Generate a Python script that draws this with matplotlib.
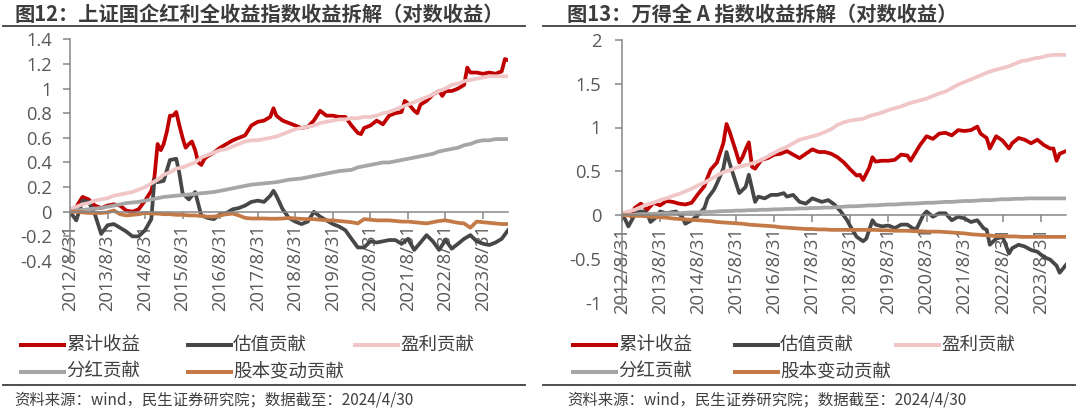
import matplotlib
matplotlib.use("Agg")
import matplotlib.pyplot as plt
from matplotlib.lines import Line2D
from matplotlib.ticker import FuncFormatter, MultipleLocator
import pandas as pd

plt.rcParams['font.family'] = ['Noto Sans CJK SC', 'DejaVu Sans']
plt.rcParams['axes.unicode_minus'] = False

# 月份偏移（以 2012/8/31 为 0）
grid = list(range(0, 141, 2))

# 图12：上证国企红利全收益指数
sz_red_m = [0, 2, 4, 6, 8, 10, 12, 14, 16, 18, 20, 22, 24, 26, 27, 28, 29, 30, 31, 32,
            33, 34, 35, 36, 37, 38, 39, 40, 41, 42, 43, 44, 46, 48, 50, 52, 54, 56, 58, 60,
            62, 64, 65, 66, 68, 70, 72, 74, 76, 78, 80, 82, 84, 86, 88, 90, 92, 93, 94, 96,
            98, 100, 102, 104, 106, 107, 108, 110, 111, 112, 114, 116, 118, 119, 120, 122, 124, 126, 127, 128,
            130, 132, 134, 136, 138, 139, 140]
sz_red = [0, 0.04, 0.12, 0.10, 0.05, 0.03, 0.05, 0.06, 0.05, 0.01,
          0.0, 0.02, 0.09, 0.17, 0.28, 0.55, 0.50, 0.55, 0.65, 0.78,
          0.78, 0.81, 0.70, 0.60, 0.52, 0.55, 0.57, 0.50, 0.40, 0.38,
          0.43, 0.45, 0.48, 0.52, 0.55, 0.58, 0.60, 0.62, 0.70, 0.73,
          0.74, 0.77, 0.84, 0.78, 0.74, 0.72, 0.70, 0.68, 0.69, 0.74,
          0.82, 0.78, 0.78, 0.77, 0.77, 0.70, 0.64, 0.63, 0.68, 0.70,
          0.74, 0.71, 0.78, 0.80, 0.81, 0.90, 0.88, 0.82, 0.80, 0.87,
          0.90, 0.95, 0.98, 0.94, 0.98, 0.98, 1.00, 1.03, 1.17, 1.13,
          1.13, 1.12, 1.13, 1.12, 1.14, 1.24, 1.23]
sz_val_m = [0, 2, 4, 6, 8, 10, 12, 14, 16, 18, 20, 22, 24, 26, 27, 28, 30, 32, 34, 35,
            36, 38, 40, 42, 44, 46, 48, 50, 52, 54, 56, 58, 60, 62, 64, 65, 66, 68, 70, 72,
            74, 76, 78, 80, 82, 84, 86, 88, 90, 92, 94, 96, 98, 100, 102, 104, 106, 108, 110, 112,
            114, 116, 118, 120, 122, 124, 126, 128, 130, 132, 134, 136, 138, 140]
sz_val = [0, -0.07, 0.09, 0.08, -0.02, -0.18, -0.11, -0.10, -0.13, -0.16,
          -0.20, -0.20, -0.15, -0.06, 0.26, 0.24, 0.25, 0.42, 0.43, 0.31,
          0.15, 0.10, 0.16, -0.03, -0.05, -0.06, -0.02, -0.01, 0.02, 0.03,
          0.05, 0.08, 0.09, 0.08, 0.13, 0.17, 0.13, 0.02, -0.05, -0.08,
          -0.10, -0.08, 0.0, -0.04, -0.07, -0.10, -0.12, -0.15, -0.22, -0.29,
          -0.29, -0.24, -0.25, -0.24, -0.23, -0.23, -0.26, -0.22, -0.31, -0.25,
          -0.19, -0.24, -0.31, -0.23, -0.30, -0.26, -0.22, -0.19, -0.24, -0.26,
          -0.27, -0.25, -0.22, -0.15]
sz_earn = [0.02, 0.04, 0.06, 0.07, 0.09, 0.10, 0.11, 0.13, 0.14, 0.15,
           0.16, 0.18, 0.20, 0.23, 0.26, 0.30, 0.32, 0.35, 0.36, 0.38,
           0.40, 0.44, 0.46, 0.48, 0.50, 0.51, 0.53, 0.55, 0.57, 0.58,
           0.58, 0.59, 0.60, 0.61, 0.63, 0.65, 0.67, 0.68, 0.69, 0.70,
           0.72, 0.73, 0.74, 0.75, 0.75, 0.76, 0.76, 0.77, 0.77, 0.78,
           0.80, 0.81, 0.83, 0.85, 0.87, 0.89, 0.91, 0.93, 0.95, 0.98,
           1.00, 1.03, 1.04, 1.06, 1.07, 1.08, 1.09, 1.10, 1.10, 1.10,
           1.10]
sz_div = [0.00, 0.01, 0.015, 0.02, 0.025, 0.03, 0.04, 0.05, 0.06, 0.07,
          0.075, 0.08, 0.09, 0.10, 0.11, 0.12, 0.125, 0.13, 0.135, 0.14,
          0.145, 0.15, 0.155, 0.16, 0.17, 0.18, 0.19, 0.20, 0.21, 0.22,
          0.225, 0.23, 0.235, 0.24, 0.25, 0.26, 0.265, 0.27, 0.28, 0.29,
          0.30, 0.31, 0.32, 0.33, 0.335, 0.34, 0.36, 0.37, 0.38, 0.39,
          0.40, 0.40, 0.41, 0.42, 0.43, 0.44, 0.45, 0.46, 0.47, 0.49,
          0.50, 0.51, 0.52, 0.54, 0.55, 0.57, 0.58, 0.58, 0.59, 0.59,
          0.59]
sz_share = [0.0, 0.0, -0.005, -0.01, -0.01, -0.01, -0.005, 0.01, -0.02, -0.03,
            -0.025, -0.02, -0.01, -0.015, -0.015, -0.02, -0.02, -0.025, -0.025, -0.03,
            -0.03, -0.035, -0.04, -0.04, -0.03, -0.02, -0.015, -0.03, -0.05, -0.055,
            -0.055, -0.055, -0.057, -0.057, -0.055, -0.05, -0.055, -0.058, -0.06, -0.06,
            -0.065, -0.07, -0.07, -0.075, -0.08, -0.085, -0.095, -0.06, -0.065, -0.07,
            -0.07, -0.07, -0.075, -0.08, -0.08, -0.085, -0.09, -0.095, -0.085, -0.075,
            -0.07, -0.08, -0.09, -0.095, -0.13, -0.08, -0.085, -0.09, -0.095, -0.10,
            -0.10]

# 图13：万得全A
qa_red_m = [0, 2, 3, 4, 6, 8, 10, 12, 14, 16, 18, 20, 22, 24, 26, 27, 28, 30, 32, 33,
            34, 36, 37, 38, 39, 40, 41, 42, 44, 46, 48, 50, 52, 54, 56, 58, 60, 62, 64, 66,
            68, 70, 72, 74, 75, 76, 78, 79, 80, 82, 84, 86, 88, 90, 91, 92, 94, 96, 98, 100,
            102, 104, 106, 108, 110, 112, 113, 115, 116, 118, 120, 122, 123, 125, 127, 129, 131, 133, 135, 136,
            137, 138, 140]
qa_red = [0.0, 0.03, -0.02, 0.08, 0.13, 0.06, 0.14, 0.11, 0.16, 0.15,
          0.13, 0.12, 0.14, 0.24, 0.33, 0.43, 0.52, 0.60, 0.82, 1.04,
          0.95, 0.72, 0.60, 0.66, 0.75, 0.83, 0.55, 0.53, 0.63, 0.65,
          0.69, 0.70, 0.73, 0.69, 0.65, 0.70, 0.75, 0.72, 0.72, 0.70,
          0.66, 0.60, 0.52, 0.45, 0.46, 0.40, 0.54, 0.66, 0.61, 0.62,
          0.62, 0.63, 0.69, 0.68, 0.62, 0.68, 0.80, 0.90, 0.87, 0.93,
          0.94, 0.91, 0.97, 0.96, 0.97, 1.01, 0.93, 0.88, 0.76, 0.90,
          0.85, 0.76, 0.82, 0.88, 0.86, 0.82, 0.86, 0.80, 0.76, 0.76,
          0.62, 0.70, 0.73]
qa_val_m = [0, 1, 2, 4, 5, 7, 8, 9, 11, 12, 14, 17, 19, 20, 22, 24, 26, 27, 29, 30,
            32, 33, 34, 36, 37, 39, 40, 42, 43, 45, 47, 49, 51, 52, 54, 56, 58, 60, 63, 65,
            67, 69, 71, 72, 74, 76, 77, 79, 80, 82, 84, 86, 88, 90, 92, 93, 95, 96, 98, 100,
            102, 104, 106, 108, 110, 112, 114, 115, 116, 118, 120, 122, 123, 125, 127, 129, 131, 133, 135, 137,
            138, 140]
qa_val = [0, -0.05, -0.13, 0.0, 0.04, 0.04, 0.02, -0.08, -0.02, 0.04,
          0.02, 0.04, -0.02, -0.10, -0.06, 0.0, 0.08, 0.19, 0.29, 0.36,
          0.53, 0.72, 0.59, 0.36, 0.25, 0.32, 0.46, 0.15, 0.21, 0.19,
          0.23, 0.23, 0.25, 0.21, 0.23, 0.15, 0.13, 0.19, 0.15, 0.17,
          0.12, 0.04, -0.06, -0.13, -0.25, -0.30, -0.27, -0.06, -0.11, -0.13,
          -0.12, -0.15, -0.11, -0.11, -0.16, -0.15, 0.0, 0.04, -0.02, 0.02,
          0.02, -0.06, -0.02, -0.04, -0.08, -0.06, -0.15, -0.17, -0.34, -0.27,
          -0.25, -0.44, -0.38, -0.34, -0.36, -0.40, -0.42, -0.48, -0.51, -0.58,
          -0.66, -0.57]
qa_earn = [0.02, 0.04, 0.06, 0.09, 0.12, 0.14, 0.17, 0.19, 0.22, 0.24,
           0.27, 0.30, 0.34, 0.37, 0.41, 0.45, 0.49, 0.51, 0.54, 0.56,
           0.58, 0.60, 0.63, 0.67, 0.71, 0.75, 0.78, 0.82, 0.86, 0.88,
           0.90, 0.92, 0.95, 0.98, 1.03, 1.06, 1.08, 1.09, 1.10, 1.13,
           1.15, 1.17, 1.20, 1.22, 1.24, 1.27, 1.29, 1.31, 1.33, 1.36,
           1.39, 1.41, 1.45, 1.49, 1.52, 1.55, 1.58, 1.61, 1.64, 1.66,
           1.68, 1.70, 1.73, 1.76, 1.77, 1.79, 1.80, 1.82, 1.83, 1.83,
           1.83]
qa_div = [0.0, 0.0, 0.005, 0.01, 0.01, 0.015, 0.015, 0.02, 0.02, 0.02,
          0.025, 0.03, 0.03, 0.035, 0.035, 0.04, 0.045, 0.045, 0.05, 0.05,
          0.055, 0.055, 0.06, 0.06, 0.065, 0.065, 0.07, 0.07, 0.075, 0.075,
          0.08, 0.08, 0.085, 0.085, 0.09, 0.095, 0.10, 0.10, 0.105, 0.11,
          0.11, 0.115, 0.12, 0.12, 0.125, 0.13, 0.13, 0.135, 0.14, 0.14,
          0.145, 0.15, 0.15, 0.155, 0.16, 0.16, 0.165, 0.17, 0.17, 0.175,
          0.18, 0.18, 0.185, 0.185, 0.19, 0.19, 0.19, 0.19, 0.19, 0.19,
          0.19]
qa_share = [0.0, -0.005, -0.01, -0.01, -0.015, -0.02, -0.025, -0.03, -0.04, -0.045,
            -0.05, -0.055, -0.06, -0.065, -0.07, -0.08, -0.085, -0.09, -0.095, -0.10,
            -0.11, -0.115, -0.12, -0.125, -0.13, -0.14, -0.145, -0.15, -0.155, -0.16,
            -0.16, -0.165, -0.165, -0.17, -0.17, -0.17, -0.17, -0.17, -0.17, -0.17,
            -0.17, -0.175, -0.175, -0.18, -0.18, -0.18, -0.185, -0.185, -0.19, -0.19,
            -0.19, -0.195, -0.20, -0.205, -0.21, -0.22, -0.225, -0.23, -0.235, -0.24,
            -0.24, -0.245, -0.245, -0.25, -0.25, -0.25, -0.25, -0.25, -0.25, -0.25,
            -0.25]

names = ['累计收益', '估值贡献', '盈利贡献', '分红贡献', '股本变动贡献']
colors = ['#C00000', '#474747', '#F0C6C6', '#A6A6A6', '#C47A46']
tick_years = list(range(2012, 2024))

start = pd.Timestamp('2012-08-31')


def to_dates(months):
    return [start + pd.offsets.MonthEnd(m) for m in months]


W, H = 1080, 409
fig = plt.figure(figsize=(W / 100, H / 100), dpi=100)


def px(x, y):
    return x / W, 1 - y / H


def panel(rect, series, ylim, ystep, ypad):
    ax = fig.add_axes(rect)
    for (m, v), c in zip(series, colors):
        ax.plot(to_dates(m), v, color=c, lw=2.7, solid_joinstyle='round', zorder=2)
    ax.set_xlim(start, start + pd.offsets.MonthEnd(140))
    ax.set_ylim(*ylim)
    ax.yaxis.set_major_locator(MultipleLocator(ystep))
    ax.yaxis.set_major_formatter(FuncFormatter(lambda v, p: f'{round(v, 2):g}'))
    ticks = [pd.Timestamp(f'{y}-08-31') for y in tick_years]
    ax.set_xticks(ticks)
    ax.set_xticklabels([f'{y}/8/31' for y in tick_years])
    for s in ['top', 'right']:
        ax.spines[s].set_visible(False)
    ax.spines['bottom'].set_position(('data', 0))
    for s in ['left', 'bottom']:
        ax.spines[s].set_color('#868686')
        ax.spines[s].set_linewidth(1.1)
    ax.tick_params(axis='both', colors='#868686', labelcolor='#595959', length=5, width=1.1,
                   labelsize=13.2, direction='out')
    ax.tick_params(axis='y', pad=ypad)
    ax.tick_params(axis='x', pad=4, labelrotation=90)
    for lab in ax.get_xticklabels() + ax.get_yticklabels():
        lab.set_fontfamily(['Open Sans', 'DejaVu Sans'])
    return ax


sz_series = [(sz_red_m, sz_red), (sz_val_m, sz_val), (grid, sz_earn), (grid, sz_div), (grid, sz_share)]
qa_series = [(qa_red_m, qa_red), (qa_val_m, qa_val), (grid, qa_earn), (grid, qa_div), (grid, qa_share)]

panel([70 / W, 1 - 261 / H, 438 / W, (261 - 39.3) / H], sz_series, (-0.4, 1.4), 0.2, 8)
panel([622 / W, 1 - 302.5 / H, 444 / W, 262.5 / H], qa_series, (-1, 2), 0.5, 10)


def frame(x0, x1, tx, title, lx):
    fig.text(*px(tx, 14), title, fontsize=14.6, fontweight='bold', color='#3c3c3c', va='center')
    fig.add_artist(Line2D([x0 / W, x1 / W], [1 - 26 / H] * 2, color='#404040', lw=1.3))
    fig.add_artist(Line2D([x0 / W, x1 / W], [1 - 385 / H] * 2, color='#404040', lw=1.3))
    fig.text(*px(tx, 400), '资料来源：wind，民生证券研究院；数据截至：2024/4/30',
             fontsize=11.1, color='#404040', va='center')
    for i, (n, c) in enumerate(zip(names, colors)):
        col, row = i % 3, i // 3
        x = lx[col]
        y = 345 + row * 27
        fig.add_artist(Line2D([x / W, (x + 43) / W], [1 - y / H] * 2, color=c, lw=2.9))
        fig.text(*px(x + 45, y), n, fontsize=13.3, color='#404040', va='center')


frame(3, 525, 14, '图12：上证国企红利全收益指数收益拆解（对数收益）', [21, 188, 355])
frame(543, 1075, 567, '图13：万得全 A 指数收益拆解（对数收益）', [573, 735, 896])

fig.savefig('out.png', dpi=100)
